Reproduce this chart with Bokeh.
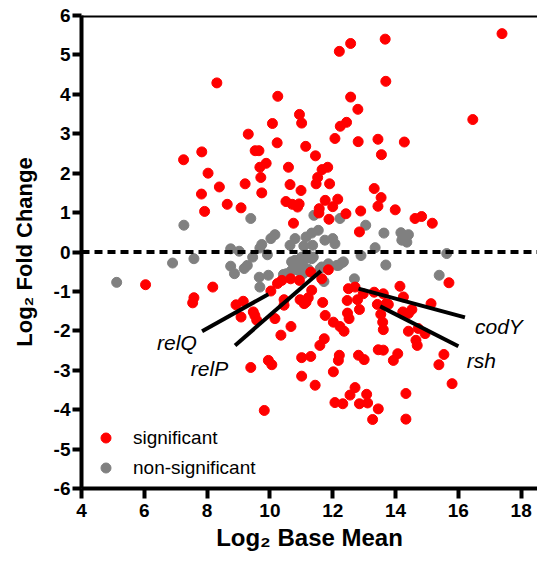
from bokeh.plotting import figure
from bokeh.models import Span, Legend, LegendItem, FixedTicker, Range1d, ColumnDataSource
from bokeh.embed import file_html
from bokeh.resources import INLINE
from bokeh.core.properties import value

# ---- data (log2 base mean, log2 fold change) ----
sig_x = [8.31, 10.25, 10.94, 11.01, 10.08, 9.31, 10.23, 11.14, 7.83, 9.53, 9.65, 7.25, 9.88, 9.68, 10.59,
         8.03, 9.71, 9.21, 10.64, 8.39, 10.99, 7.82, 9.74, 10.51, 10.71, 10.88, 10.93, 8.64, 9.08, 7.92, 10.75,
         17.39, 13.67, 12.57, 12.21, 13.69, 12.57, 12.80, 16.46, 12.44, 12.24, 12.07, 12.81, 13.44, 14.28, 13.55,
         11.45, 11.66, 11.84, 11.52, 11.47, 11.90, 13.32, 13.54, 11.76, 12.16, 13.44, 12.00, 11.57, 11.56, 13.99,
         12.89, 12.42, 11.88, 14.62, 14.83, 15.17, 12.85,
         6.04, 7.58, 7.54, 8.18, 8.92, 9.15, 9.08, 9.47, 9.58, 9.52, 10.16, 10.35, 10.67, 10.45, 10.45, 10.03,
         10.24, 10.38, 10.66, 10.94, 10.96, 11.15, 11.22, 11.09, 11.33, 11.30, 11.86, 11.65, 11.68, 11.76, 12.02,
         12.23, 12.36, 12.46, 12.47, 12.52, 12.79, 12.85, 12.50, 12.71, 11.73, 11.59, 9.39, 9.95, 10.06, 11.01,
         11.30, 11.01, 9.82, 12.02, 12.21, 12.18, 12.82, 13.00, 13.45, 13.61, 13.93, 14.07, 12.97, 13.32, 13.61,
         13.42, 13.70, 13.77, 13.53, 13.59, 13.61, 14.14, 14.25, 14.23, 14.41, 14.52, 14.41, 14.65, 14.69, 15.70,
         15.13, 14.72, 14.94, 15.54, 15.38, 15.80, 11.44, 12.71, 12.55, 13.08, 13.11, 12.85, 12.07, 12.32, 13.45,
         13.27, 14.33, 14.33]
sig_y = [4.29, 3.95, 3.49, 3.27, 3.26, 2.99, 2.77, 2.68, 2.54, 2.57, 2.57, 2.34, 2.25, 2.15, 2.15,
         2.00, 1.89, 1.73, 1.71, 1.65, 1.56, 1.47, 1.50, 1.28, 1.21, 1.14, 1.22, 1.21, 1.12, 1.03, 0.73,
         5.54, 5.40, 5.29, 5.09, 4.33, 3.93, 3.62, 3.36, 3.29, 3.19, 2.88, 2.80, 2.86, 2.79, 2.47,
         2.44, 2.09, 2.15, 1.89, 1.73, 1.73, 1.61, 1.38, 1.31, 1.34, 1.16, 1.15, 1.10, 0.99, 1.07,
         1.04, 0.97, 0.83, 0.85, 0.90, 0.73, 0.51,
         -0.83, -1.16, -1.29, -0.89, -1.34, -1.25, -1.65, -1.52, -1.73, -1.61, -1.69, -2.11, -1.89, -1.21, -1.35, -0.99,
         -0.80, -0.72, -0.68, -0.72, -1.21, -1.27, -1.16, -1.31, -0.97, -0.51, -0.45, -0.68, -1.28, -1.61, -1.78,
         -1.89, -2.01, -1.23, -1.55, -1.69, -1.21, -1.46, -0.93, -0.89, -2.20, -2.37, -2.93, -2.75, -2.86, -2.68,
         -2.65, -3.15, -4.02, -3.04, -2.62, -2.75, -2.62, -2.73, -2.48, -2.49, -2.75, -2.58, -1.06, -1.02, -1.06,
         -1.33, -1.31, -1.33, -1.58, -1.78, -1.97, -0.87, -1.14, -1.52, -1.56, -1.46, -2.01, -2.24, -2.37, -0.78,
         -1.31, -1.94, -2.07, -2.60, -2.86, -3.34, -3.38, -3.44, -3.63, -3.61, -3.83, -3.85, -3.82, -3.85, -3.98,
         -4.25, -3.59, -4.24]

ns_x = [5.12, 6.90, 7.26, 7.58, 8.75, 9.02, 8.75, 8.87, 9.18, 9.28, 9.45, 9.39, 9.68, 9.74, 9.92, 9.66, 9.95,
        9.68, 10.03, 10.16, 10.64, 10.80, 11.15, 11.33, 11.54, 11.40, 11.08, 11.36, 11.75, 12.00, 12.07, 12.23,
        13.05, 13.35, 13.63, 14.17, 14.41, 14.20, 14.36, 12.90, 13.69, 12.69, 15.63, 15.39, 10.80, 10.96, 11.15,
        11.33, 10.85, 11.06, 11.22, 11.60, 12.18, 12.34, 10.69, 11.01, 11.22, 10.53, 10.69, 10.90, 11.12, 11.06,
        11.65, 11.86, 12.13, 12.28, 11.72, 10.43, 11.38]
ns_y = [-0.77, -0.28, 0.68, -0.17, 0.08, 0.02, -0.36, -0.55, -0.42, -0.34, -0.13, 0.85, 0.10, 0.19, -0.07, -0.64, -0.59,
        -0.89, 0.34, 0.44, 0.17, 0.34, 0.38, 0.48, 0.55, 0.93, 0.15, 0.17, 0.30, 0.34, 0.21, 0.85,
        0.68, 0.11, 0.48, 0.49, 0.44, 0.30, 0.25, -0.09, -0.33, -0.68, -0.04, -0.59, -0.21, -0.28, -0.17,
        -0.17, -0.38, -0.38, -0.44, -0.42, -0.34, -0.25, -0.25, -0.13, -0.09, -0.55, -0.47, -0.47, -0.51, -0.55,
        -0.38, -0.30, -0.34, -0.28, -0.75, -0.57, -0.13]

x_ticks = [4, 6, 8, 10, 12, 14, 16, 18]
y_ticks = [-6, -5, -4, -3, -2, -1, 0, 1, 2, 3, 4, 5, 6]
y_tick_labels = ["-6", "-5", "-4", "-3", "-2", "-1", "0", "1", "2", "3", "4", "5", "6"]

# gene callouts: point end (x0, y0) -> label end (x1, y1), label anchor (tx, ty)
gene_names_right = ["relQ", "relP"]
gene_x0_r = [9.95, 11.62]
gene_y0_r = [-1.07, -0.48]
gene_x1_r = [7.84, 8.89]
gene_y1_r = [-2.01, -2.37]
gene_tx_r = [7.67, 8.67]
gene_ty_r = [-2.29, -2.95]

gene_names_left = ["codY", "rsh"]
gene_x0_l = [12.82, 13.51]
gene_y0_l = [-0.93, -1.38]
gene_x1_l = [16.21, 16.00]
gene_y1_l = [-1.66, -2.39]
gene_tx_l = [16.53, 16.27]
gene_ty_l = [-1.89, -2.75]

x_title = "Log₂ Base Mean"
y_title = "Log₂ Fold Change"

FONT = "Liberation Sans"

p = figure(width=537, height=555, x_range=Range1d(4, 18.52), y_range=Range1d(-6, 6),
           output_backend="svg", toolbar_location=None,
           min_border_left=81, min_border_right=0, min_border_top=15, min_border_bottom=67)
p.grid.visible = False
p.outline_line_color = None
p.background_fill_color = "white"
p.border_fill_color = "white"

for ax in (p.xaxis, p.yaxis):
    ax.axis_line_width = 4
    ax.axis_line_color = "black"
    ax.major_tick_line_width = 4
    ax.major_tick_line_color = "black"
    ax.major_tick_in = 0
    ax.minor_tick_line_color = None
    ax.major_label_text_font = FONT
    ax.major_label_text_font_style = "bold"
    ax.major_label_text_font_size = "19px"
    ax.major_label_text_color = "black"
    ax.axis_label_text_font = FONT
    ax.axis_label_text_font_style = "bold"
    ax.axis_label_text_color = "black"

p.xaxis.ticker = FixedTicker(ticks=x_ticks)
p.xaxis.major_tick_out = 10
p.xaxis.major_label_standoff = 5
p.xaxis.axis_label = x_title
p.xaxis.axis_label_text_font_size = "24px"
p.xaxis.axis_label_standoff = 4

p.yaxis.ticker = FixedTicker(ticks=y_ticks)
p.yaxis.major_label_overrides = {t: s for t, s in zip(y_ticks, y_tick_labels)}
p.yaxis.major_tick_out = 9
p.yaxis.major_label_standoff = 2
p.yaxis.axis_label = y_title
p.yaxis.axis_label_text_font_size = "22px"
p.yaxis.axis_label_standoff = 14

p.add_layout(Span(location=6, dimension="width", line_color="black", line_width=4))
p.add_layout(Span(location=0, dimension="width", line_color="black", line_width=4, line_dash="8 5"))

r_ns = p.scatter(ns_x, ns_y, size=10, fill_color="#808080", line_color="#808080")
r_sig = p.scatter(sig_x, sig_y, size=10, fill_color="#FF0000", line_color="#FF0000")

src_r = ColumnDataSource(dict(x0=gene_x0_r, y0=gene_y0_r, x1=gene_x1_r, y1=gene_y1_r,
                              tx=gene_tx_r, ty=gene_ty_r, name=gene_names_right))
src_l = ColumnDataSource(dict(x0=gene_x0_l, y0=gene_y0_l, x1=gene_x1_l, y1=gene_y1_l,
                              tx=gene_tx_l, ty=gene_ty_l, name=gene_names_left))
for src, align in ((src_r, "right"), (src_l, "left")):
    p.segment(x0="x0", y0="y0", x1="x1", y1="y1", source=src, line_color="black", line_width=4)
    p.text(x="tx", y="ty", text="name", source=src, text_font=value(FONT), text_font_style="italic",
           text_font_size="21px", text_align=align, text_baseline="alphabetic", text_color="black")

legend = Legend(items=[LegendItem(label="significant", renderers=[r_sig]),
                       LegendItem(label="non-significant", renderers=[r_ns])],
                location=(12, 8), glyph_width=25, glyph_height=25, label_standoff=15, spacing=5,
                padding=0, margin=0, border_line_color=None, background_fill_alpha=0,
                label_text_font=FONT, label_text_font_size="19px", label_text_color="black")
p.add_layout(legend)

open("out.html", "w").write(file_html(p, INLINE))
